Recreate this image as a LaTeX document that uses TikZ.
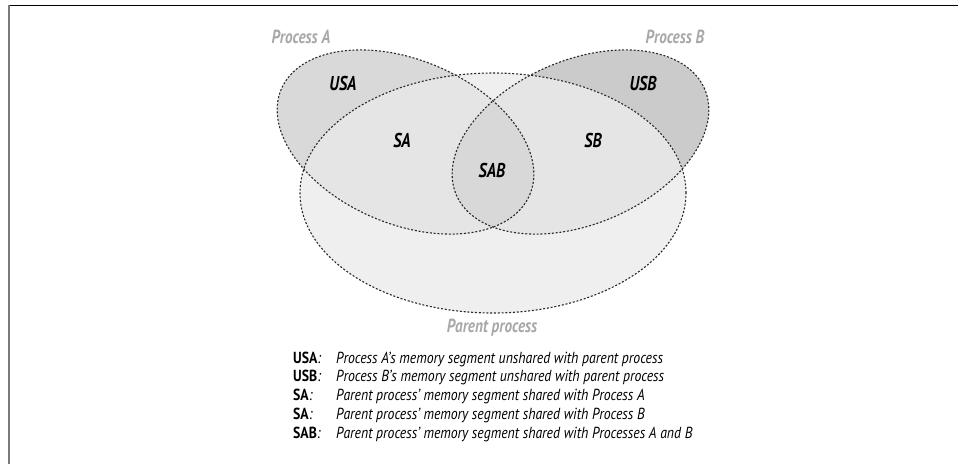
\documentclass[tikz,border=0pt]{standalone}
\usepackage{fontspec}
\setmainfont{PT Sans}[FakeStretch=0.8]
\newfontfamily\legfont{PT Sans}[FakeStretch=0.86]
\definecolor{colUSA}{HTML}{D9D9D9}
\definecolor{colUSB}{HTML}{CBCBCB}
\definecolor{colP}{HTML}{EFEFEF}
\definecolor{colS}{HTML}{E5E5E5}
\definecolor{colSAB}{HTML}{D8D8D8}
\definecolor{titlegray}{HTML}{A8A8A8}
\definecolor{framegray}{HTML}{7A7A7A}
\definecolor{linecol}{HTML}{2A2A2A}
\begin{document}
\begin{tikzpicture}[x=1pt,y=-1pt,
  outline/.style={draw=linecol, line width=1.1pt, dash pattern=on 2pt off 1.8pt},
  rotA/.style={rotate around={-23:(405.5,142)}},
  rotB/.style={rotate around={23:(580.5,142)}},
  region/.style={font=\bfseries\itshape\fontsize{20}{20}\selectfont, inner sep=0pt, anchor=base},
  title/.style={font=\bfseries\itshape\fontsize{19}{19}\selectfont, text=titlegray, inner sep=0pt, anchor=base},
  legkey/.style={font=\legfont\fontsize{16}{16}\selectfont, inner sep=0pt, anchor=base west},
  legtext/.style={font=\legfont\itshape\fontsize{16}{16}\selectfont, inner sep=0pt, anchor=base west}]
\useasboundingbox (0,0) rectangle (958,464);
% frame
\draw[black, line width=0.9pt] (8,5) -- (958,5);
\draw[framegray, line width=1.5pt] (9,5) -- (9,464);
% fills
\fill[colUSA, rotA] (405.5,142) ellipse [x radius=135pt, y radius=82pt];
\fill[colUSB, rotB] (580.5,142) ellipse [x radius=135pt, y radius=82pt];
\fill[colP] (493,193) ellipse [x radius=193pt, y radius=120pt];
\begin{scope}
  \clip (493,193) ellipse [x radius=193pt, y radius=120pt];
  \fill[colS, rotA] (405.5,142) ellipse [x radius=135pt, y radius=82pt];
  \fill[colS, rotB] (580.5,142) ellipse [x radius=135pt, y radius=82pt];
\end{scope}
\begin{scope}
  \clip[rotA] (405.5,142) ellipse [x radius=135pt, y radius=82pt];
  \fill[colSAB, rotB] (580.5,142) ellipse [x radius=135pt, y radius=82pt];
\end{scope}
% outlines
\draw[outline] (493,193) ellipse [x radius=193pt, y radius=120pt];
\draw[outline, rotA] (405.5,142) ellipse [x radius=135pt, y radius=82pt];
\draw[outline, rotB] (580.5,142) ellipse [x radius=135pt, y radius=82pt];
% titles
\node[title] (tA) at (301,43) {Process A};
\node[title] (tB) at (675,43) {Process B};
\node[title] (tP) at (492,332) {Parent process};
% region labels
\node[region] (usa) at (343,90) {USA};
\node[region] (usb) at (643,90) {USB};
\node[region] (sa) at (402,147) {SA};
\node[region] (sb) at (593,147) {SB};
\node[region] (sab) at (492,177) {SAB};
% legend
\node[legkey] (k1) at (293,363) {\textbf{USA}\textit{:}};
\node[legtext] (d1) at (336,363) {Process A’s memory segment unshared with parent process};
\node[legkey] (k2) at (293,381.8) {\textbf{USB}\textit{:}};
\node[legtext] (d2) at (336,381.8) {Process B’s memory segment unshared with parent process};
\node[legkey] (k3) at (293,400.6) {\textbf{SA}\textit{:}};
\node[legtext] (d3) at (336,400.6) {Parent process’ memory segment shared with Process A};
\node[legkey] (k4) at (293,419.4) {\textbf{SA}\textit{:}};
\node[legtext] (d4) at (336,419.4) {Parent process’ memory segment shared with Process B};
\node[legkey] (k5) at (293,438.2) {\textbf{SAB}\textit{:}};
\node[legtext] (d5) at (336,438.2) {Parent process’ memory segment shared with Processes A and B};
\end{tikzpicture}
\end{document}
